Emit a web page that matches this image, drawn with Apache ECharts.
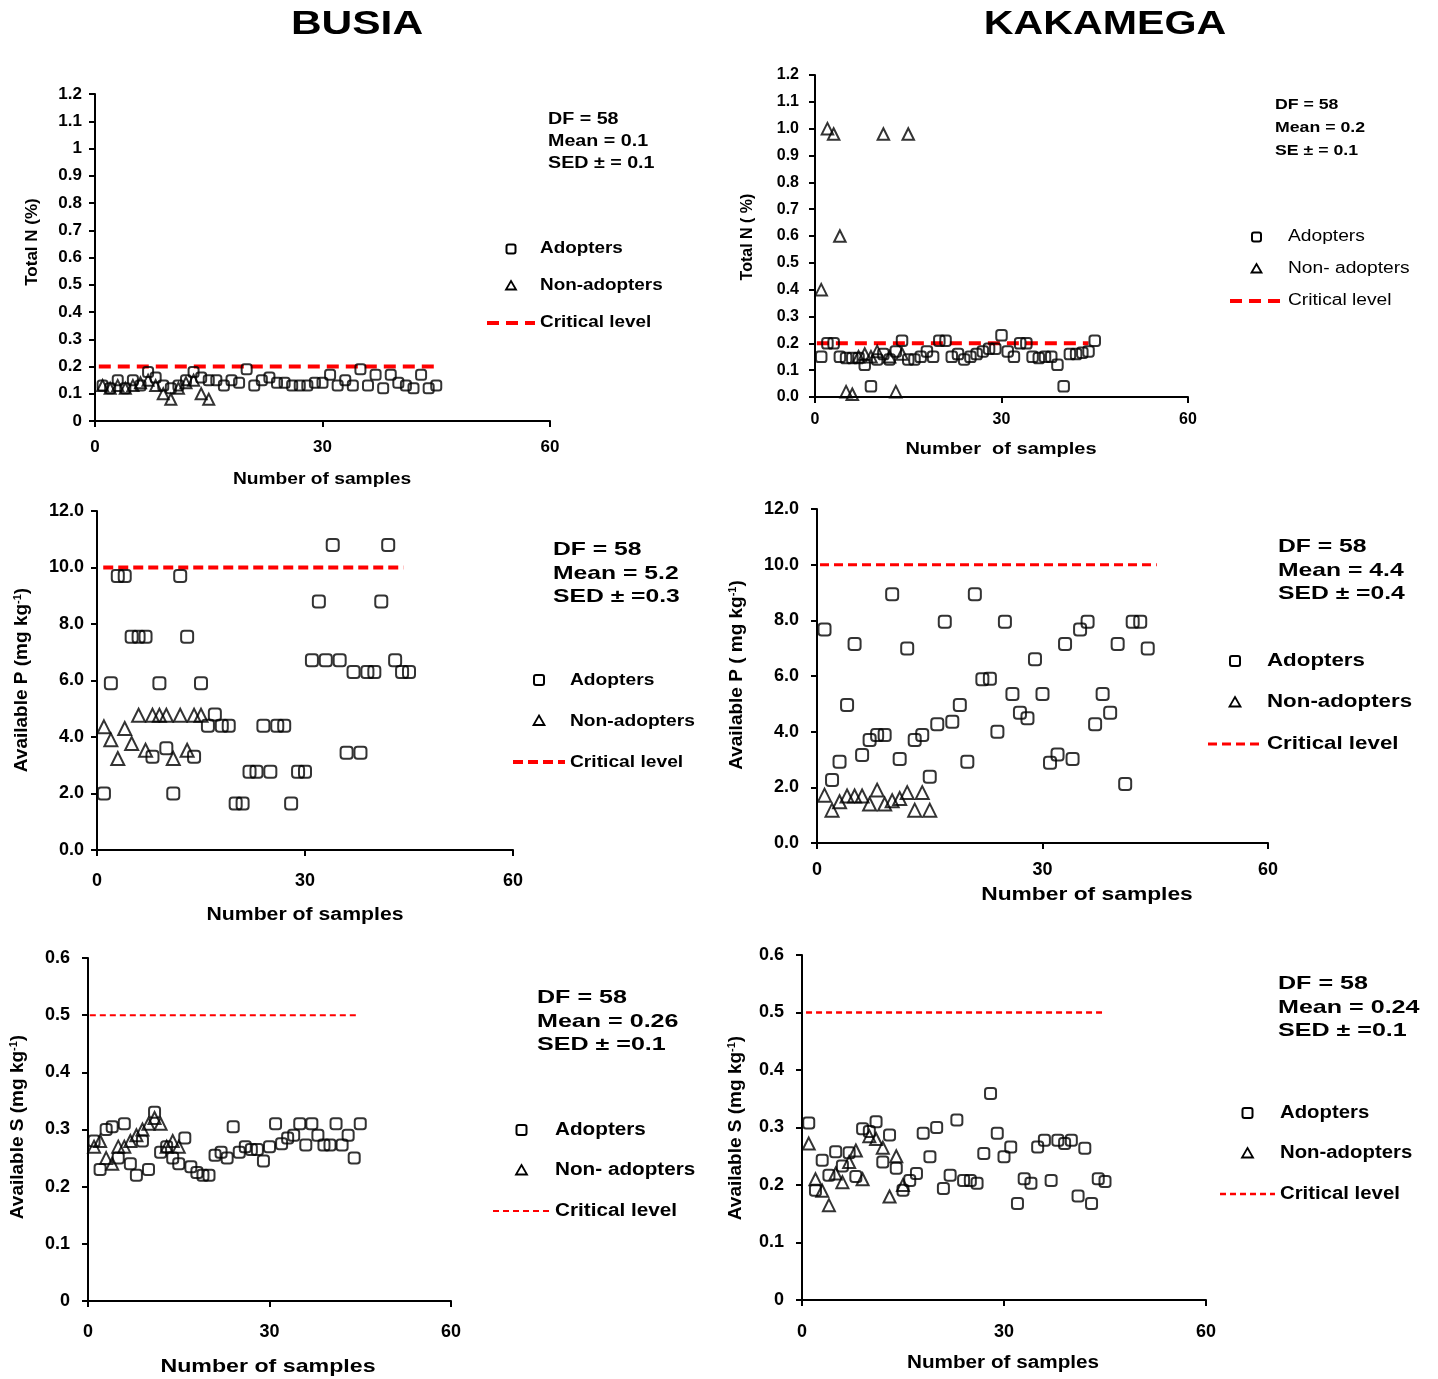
<!DOCTYPE html>
<html><head><meta charset="utf-8">
<script src="https://cdn.jsdelivr.net/npm/echarts@6/dist/echarts.min.js"></script>
<style>html,body{margin:0;padding:0;background:#fff}#c{width:1438px;height:1379px}</style>
</head><body><div id="c"></div>
<script>
// ---------------- DATA ----------------
const xTickValues = [0, 30, 60];
const regionTitles = ['BUSIA', 'KAKAMEGA'];

// Total N (%)
const busiaN_adopters = [0.13,0.12,0.15,0.12,0.15,0.13,0.18,0.16,0.13,0.12,0.13,0.15,0.18,0.16,0.15,0.15,0.13,0.15,0.14,0.19,0.13,0.15,0.16,0.14,0.14,0.13,0.13,0.13,0.14,0.14,0.17,0.13,0.15,0.13,0.19,0.13,0.17,0.12,0.17,0.14,0.13,0.12,0.17,0.12,0.13];
const busiaN_nonAdopters = [0.13,0.12,0.13,0.12,0.13,0.14,0.15,0.13,0.10,0.08,0.12,0.14,0.15,0.10,0.08];
const kakN_adopters = [0.15,0.2,0.2,0.15,0.145,0.145,0.145,0.12,0.04,0.14,0.16,0.14,0.17,0.21,0.14,0.14,0.15,0.17,0.15,0.21,0.21,0.15,0.16,0.14,0.15,0.16,0.17,0.18,0.18,0.23,0.17,0.15,0.2,0.2,0.15,0.145,0.15,0.15,0.12,0.04,0.16,0.16,0.165,0.17,0.21];
const kakN_nonAdopters = [0.4,1.0,0.98,0.6,0.02,0.01,0.15,0.16,0.15,0.17,0.98,0.15,0.02,0.16,0.98];

// Available P (mg kg-1)
const busiaP_adopters = [2.0,5.9,9.7,9.7,7.55,7.55,7.55,3.3,5.9,3.6,2.0,9.7,7.55,3.3,5.9,4.4,4.8,4.4,4.4,1.65,1.65,2.77,2.77,4.4,2.77,4.4,4.4,1.65,2.77,2.77,6.72,8.8,6.72,10.8,6.72,3.44,6.3,3.44,6.3,6.3,8.8,10.8,6.72,6.3,6.3];
const busiaP_nonAdopters = [4.36,3.9,3.24,4.3,3.77,4.77,3.53,4.77,4.77,4.77,3.24,4.77,3.53,4.77,4.77];
const kakP_adopters = [7.67,2.26,2.92,4.96,7.15,3.16,3.7,3.88,3.88,8.94,3.02,6.99,3.7,3.88,2.38,4.27,7.95,4.36,4.96,2.92,8.94,5.88,5.9,4.0,7.95,5.35,4.68,4.48,6.6,5.35,2.88,3.18,7.15,3.02,7.67,7.95,4.27,5.35,4.68,7.15,2.12,7.95,7.95,6.99];
const kakP_nonAdopters = [1.72,1.18,1.48,1.69,1.69,1.69,1.4,1.9,1.4,1.52,1.6,1.81,1.18,1.81,1.18];

// Available S (mg kg-1)
const busiaS_adopters = [0.28,0.23,0.30,0.305,0.25,0.31,0.24,0.22,0.28,0.23,0.33,0.26,0.27,0.25,0.24,0.285,0.235,0.225,0.22,0.22,0.255,0.26,0.25,0.305,0.26,0.27,0.265,0.265,0.245,0.27,0.31,0.275,0.285,0.29,0.31,0.273,0.31,0.29,0.273,0.273,0.31,0.273,0.29,0.25,0.31];
const busiaS_nonAdopters = [0.27,0.28,0.25,0.24,0.27,0.27,0.28,0.29,0.30,0.31,0.32,0.31,0.27,0.28,0.27];
const kakS_adopters = [0.308,0.191,0.243,0.217,0.258,0.233,0.256,0.215,0.298,0.293,0.31,0.24,0.287,0.229,0.191,0.208,0.22,0.29,0.249,0.30,0.194,0.217,0.313,0.208,0.208,0.203,0.255,0.359,0.29,0.249,0.266,0.168,0.211,0.203,0.266,0.278,0.208,0.278,0.272,0.278,0.181,0.264,0.168,0.211,0.206];
const kakS_nonAdopters = [0.272,0.21,0.19,0.165,0.22,0.205,0.24,0.26,0.21,0.285,0.28,0.265,0.18,0.25,0.2];

// Critical levels and the sample range over which the line is drawn
const criticalN = 0.2, criticalP = 10, criticalS = 0.5;
const critSpan_busiaN = [0.5, 45], critSpan_kakN = [0.3, 44];
const critSpan_busiaP = [0.9, 44.2], critSpan_kakP = [0.4, 45.2];
const critSpan_busiaS = [0.3, 44.6], critSpan_kakS = [0.6, 44.7];

// Statistics text
const stats_busiaN = ['DF = 58', 'Mean = 0.1', 'SED \u00b1 = 0.1'];
const stats_kakN = ['DF = 58', 'Mean = 0.2', 'SE \u00b1 = 0.1'];
const stats_busiaP = ['DF = 58', 'Mean = 5.2', 'SED \u00b1 =0.3'];
const stats_kakP = ['DF = 58', 'Mean = 4.4', 'SED \u00b1 =0.4'];
const stats_busiaS = ['DF = 58', 'Mean = 0.26', 'SED \u00b1 =0.1'];
const stats_kakS = ['DF = 58', 'Mean = 0.24', 'SED \u00b1 =0.1'];

// ---------------- LAYOUT / STYLE ----------------
const FONT = "'Liberation Sans', Arial, Helvetica, sans-serif";
const fmtG = v => String(+(+v).toFixed(1));
const fmtF1 = v => (+v).toFixed(1);

const panels = [
  {adopters: busiaN_adopters, non: busiaN_nonAdopters, crit: criticalN, span: critSpan_busiaN, stats: stats_busiaN,
   yMax: 1.2, yInt: 0.1, yFmt: fmtG, grid: [95, 94, 455, 327], tickFont: 17, xMargin: 18, yMargin: 13,
   yTitle: 'Total N (%)', yTitlePos: [32, 242], yTitleFont: 17,
   xTitle: 'Number of samples', xTitlePos: [322, 480], xTitleFont: 16, xTitleScale: 1.2,
   statsPos: [548, 120, 22], statsFont: 16, statsScale: 1.23,
   legendLabels: ['Adopters', 'Non-adopters', 'Critical level'], legendPos: [487, 249, 37], legendW: 48,
   legendFont: 16, legendScale: 1.18, legendWeight: 'bold', legendSym: 9,
   symSize: 10, critWidth: 4, critDash: [12, 7]},
  {adopters: kakN_adopters, non: kakN_nonAdopters, crit: criticalN, span: critSpan_kakN, stats: stats_kakN,
   yMax: 1.2, yInt: 0.1, yFmt: fmtF1, grid: [815, 75, 373, 322], tickFont: 16, xMargin: 15, yMargin: 16,
   yTitle: 'Total N ( %)', yTitlePos: [748, 237], yTitleFont: 16,
   xTitle: 'Number  of samples', xTitlePos: [1001, 450], xTitleFont: 16, xTitleScale: 1.25,
   statsPos: [1275, 105, 23], statsFont: 15, statsScale: 1.18,
   legendLabels: ['Adopters', 'Non- adopters', 'Critical level'], legendPos: [1230, 237, 32], legendW: 53,
   legendFont: 16, legendScale: 1.2, legendWeight: 'normal', legendSym: 9,
   symSize: 10.5, critWidth: 4, critDash: [12, 7]},
  {adopters: busiaP_adopters, non: busiaP_nonAdopters, crit: criticalP, span: critSpan_busiaP, stats: stats_busiaP,
   yMax: 12, yInt: 2, yFmt: fmtF1, grid: [97, 511, 416, 339], tickFont: 18, xMargin: 22, yMargin: 13,
   yTitle: 'Available P (mg kg{sup|-1})', yTitlePos: [22, 680], yTitleFont: 19,
   xTitle: 'Number of samples', xTitlePos: [305, 915], xTitleFont: 18, xTitleScale: 1.18,
   statsPos: [553, 550, 23.5], statsFont: 19, statsScale: 1.3,
   legendLabels: ['Adopters', 'Non-adopters', 'Critical level'], legendPos: [513, 680, 41], legendW: 52,
   legendFont: 17, legendScale: 1.13, legendWeight: 'bold', legendSym: 10,
   symSize: 12, critWidth: 4, critDash: [10, 5]},
  {adopters: kakP_adopters, non: kakP_nonAdopters, crit: criticalP, span: critSpan_kakP, stats: stats_kakP,
   yMax: 12, yInt: 2, yFmt: fmtF1, grid: [817, 509, 451, 334], tickFont: 18, xMargin: 18, yMargin: 18,
   yTitle: 'Available P ( mg kg{sup|-1})', yTitlePos: [737, 675], yTitleFont: 19,
   xTitle: 'Number of samples', xTitlePos: [1087, 895], xTitleFont: 19, xTitleScale: 1.2,
   statsPos: [1278, 547, 23.5], statsFont: 19, statsScale: 1.3,
   legendLabels: ['Adopters', 'Non-adopters', 'Critical level'], legendPos: [1208, 661, 41.5], legendW: 54,
   legendFont: 18, legendScale: 1.24, legendWeight: 'bold', legendSym: 10,
   symSize: 12, critWidth: 3, critDash: [9, 5]},
  {adopters: busiaS_adopters, non: busiaS_nonAdopters, crit: criticalS, span: critSpan_busiaS, stats: stats_busiaS,
   yMax: 0.6, yInt: 0.1, yFmt: fmtG, grid: [88, 958, 363, 343], tickFont: 18, xMargin: 22, yMargin: 18,
   yTitle: 'Available S (mg kg{sup|-1})', yTitlePos: [18, 1127], yTitleFont: 19,
   xTitle: 'Number of samples', xTitlePos: [268, 1367], xTitleFont: 19, xTitleScale: 1.22,
   statsPos: [537, 998, 23.5], statsFont: 19, statsScale: 1.32,
   legendLabels: ['Adopters', 'Non- adopters', 'Critical level'], legendPos: [493, 1130, 40.5], legendW: 57,
   legendFont: 18, legendScale: 1.15, legendWeight: 'bold', legendSym: 10,
   symSize: 11, critWidth: 2, critDash: [6, 4]},
  {adopters: kakS_adopters, non: kakS_nonAdopters, crit: criticalS, span: critSpan_kakS, stats: stats_kakS,
   yMax: 0.6, yInt: 0.1, yFmt: fmtG, grid: [802, 955, 404, 345], tickFont: 18, xMargin: 23, yMargin: 18,
   yTitle: 'Available S (mg kg{sup|-1})', yTitlePos: [736, 1128], yTitleFont: 19,
   xTitle: 'Number of samples', xTitlePos: [1003, 1363], xTitleFont: 18, xTitleScale: 1.15,
   statsPos: [1278, 984, 23.5], statsFont: 19, statsScale: 1.32,
   legendLabels: ['Adopters', 'Non-adopters', 'Critical level'], legendPos: [1220, 1113, 40.5], legendW: 55,
   legendFont: 18, legendScale: 1.13, legendWeight: 'bold', legendSym: 10,
   symSize: 11, critWidth: 2.5, critDash: [6, 4]}
];

const toPoints = arr => arr.map((v, i) => [i + 1, v]);
const axisLineStyle = {color: '#000', width: 2};

const grids = [], xAxes = [], yAxes = [], series = [], graphics = [];

regionTitles.forEach((t, i) => {
  graphics.push({type: 'text', x: i === 0 ? 357 : 1105, y: 25, scaleX: i === 0 ? 1.25 : 1.21,
    style: {text: t, font: 'bold 34px ' + FONT, fill: '#000', textAlign: 'center', textVerticalAlign: 'middle'}});
});

panels.forEach((p, i) => {
  grids.push({left: p.grid[0], top: p.grid[1], width: p.grid[2], height: p.grid[3], containLabel: false});
  xAxes.push({type: 'value', gridIndex: i, min: xTickValues[0], max: xTickValues[2], interval: xTickValues[1] - xTickValues[0],
    axisLine: {show: true, onZero: false, lineStyle: axisLineStyle},
    axisTick: {show: true, length: 6, lineStyle: axisLineStyle},
    axisLabel: {color: '#000', fontFamily: FONT, fontWeight: 'bold', fontSize: p.tickFont, margin: p.xMargin},
    splitLine: {show: false}});
  yAxes.push({type: 'value', gridIndex: i, min: 0, max: p.yMax, interval: p.yInt,
    axisLine: {show: true, onZero: false, lineStyle: axisLineStyle},
    axisTick: {show: true, length: 6, lineStyle: axisLineStyle},
    axisLabel: {color: '#000', fontFamily: FONT, fontWeight: 'bold', fontSize: p.tickFont, margin: p.yMargin, formatter: p.yFmt},
    splitLine: {show: false}});

  series.push({
    name: 'Critical level', type: 'line', xAxisIndex: i, yAxisIndex: i, symbol: 'none', silent: true, z: 1,
    data: [[p.span[0], p.crit], [p.span[1], p.crit]],
    lineStyle: {color: '#ff0000', width: p.critWidth, type: p.critDash}
  });
  series.push({
    name: 'Adopters', type: 'scatter', xAxisIndex: i, yAxisIndex: i, symbol: 'roundRect', symbolSize: p.symSize, z: 3,
    data: toPoints(p.adopters),
    itemStyle: {color: 'rgba(0,0,0,0)', borderColor: '#000', borderWidth: 2}
  });
  series.push({
    name: 'Non-adopters', type: 'scatter', xAxisIndex: i, yAxisIndex: i, symbol: 'triangle', symbolSize: p.symSize + 1, z: 3,
    data: toPoints(p.non),
    itemStyle: {color: 'rgba(0,0,0,0)', borderColor: '#000', borderWidth: 2}
  });

  // legend (drawn as graphic elements)
  const L = p.legendPos[0], c0 = p.legendPos[1], st = p.legendPos[2], W = p.legendW, cx = L + W / 2, s = p.legendSym;
  graphics.push({type: 'rect', shape: {x: cx - s / 2, y: c0 - s / 2, width: s, height: s, r: 2},
    style: {fill: 'none', stroke: '#000', lineWidth: 2}});
  graphics.push({type: 'polygon', shape: {points: [[cx, c0 + st - s / 2 - 0.5], [cx + s / 2 + 0.5, c0 + st + s / 2 - 1], [cx - s / 2 - 0.5, c0 + st + s / 2 - 1]]},
    style: {fill: 'none', stroke: '#000', lineWidth: 1.8}});
  graphics.push({type: 'line', shape: {x1: L, y1: c0 + 2 * st, x2: L + W, y2: c0 + 2 * st},
    style: {stroke: '#ff0000', lineWidth: p.critWidth, lineDash: p.critDash}});
  p.legendLabels.forEach((lab, k) => {
    graphics.push({type: 'text', x: L + W + 5, y: c0 + k * st, scaleX: p.legendScale,
      style: {text: lab, font: p.legendWeight + ' ' + p.legendFont + 'px ' + FONT, fill: '#000', textAlign: 'left', textVerticalAlign: 'middle'}});
  });

  // axis titles
  graphics.push({type: 'text', x: p.yTitlePos[0], y: p.yTitlePos[1], rotation: Math.PI / 2,
    style: {text: p.yTitle, font: 'bold ' + p.yTitleFont + 'px ' + FONT, fill: '#000', textAlign: 'center', textVerticalAlign: 'middle',
      rich: {sup: {fontSize: Math.round(p.yTitleFont * 0.6), fontWeight: 'bold', fontFamily: FONT, verticalAlign: 'top', fill: '#000'}}}});
  graphics.push({type: 'text', x: p.xTitlePos[0], y: p.xTitlePos[1], scaleX: p.xTitleScale,
    style: {text: p.xTitle, font: 'bold ' + p.xTitleFont + 'px ' + FONT, fill: '#000', textAlign: 'center', textVerticalAlign: 'middle'}});
  // statistics
  p.stats.forEach((s2, k) => {
    graphics.push({type: 'text', x: p.statsPos[0], y: p.statsPos[1] + k * p.statsPos[2], scaleX: p.statsScale,
      style: {text: s2, font: 'bold ' + p.statsFont + 'px ' + FONT, fill: '#000', textAlign: 'left', textVerticalAlign: 'middle'}});
  });
});

const chart = echarts.init(document.getElementById('c'), null, {renderer: 'canvas', width: 1438, height: 1379});
chart.setOption({
  animation: false,
  backgroundColor: '#ffffff',
  grid: grids, xAxis: xAxes, yAxis: yAxes, series: series, graphic: graphics
});
</script></body></html>
